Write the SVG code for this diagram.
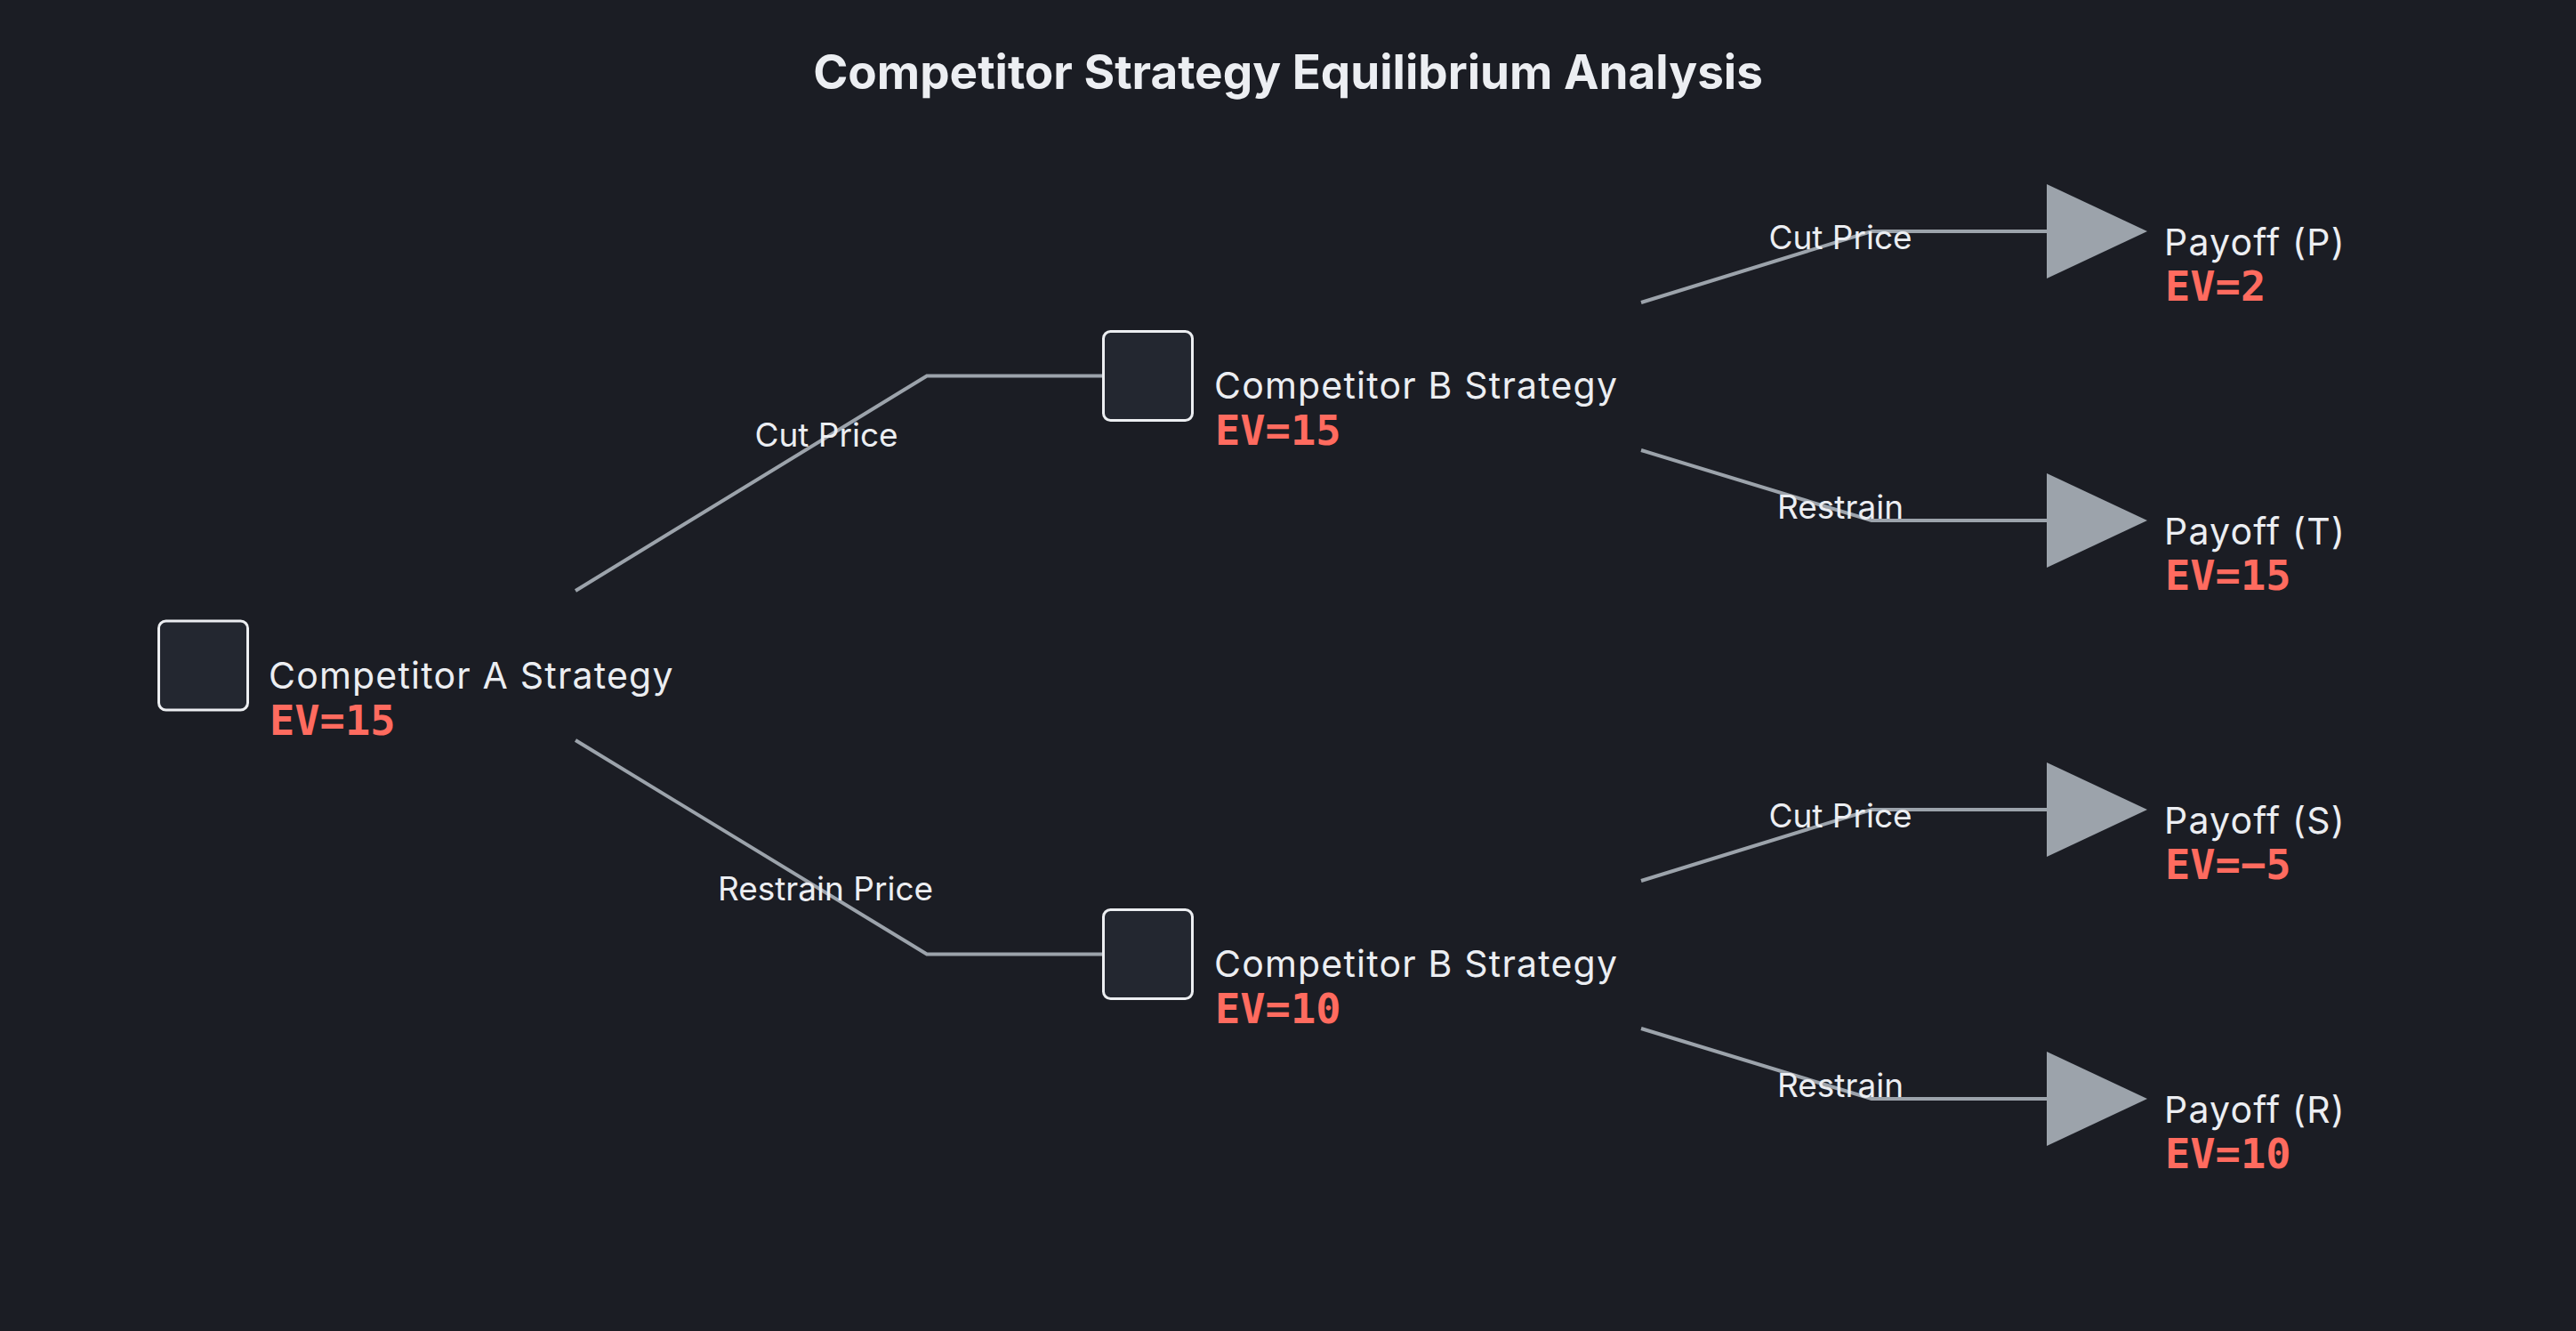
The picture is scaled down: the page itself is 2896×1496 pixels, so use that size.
<svg xmlns="http://www.w3.org/2000/svg" width="2896" height="1496" viewBox="0 0 2896 1496">
<defs>
<style>
.bg{fill:#1b1d24}
.title{font-family:Inter,"Liberation Sans",sans-serif;font-weight:700;font-size:53px;fill:#eceef2}
.box{fill:#232730;stroke:#eceef1;stroke-width:3}
.tri{fill:#9ca3ab}
.name{font-family:Inter,"Liberation Sans",sans-serif;font-size:41px;letter-spacing:1.2px;fill:#eceef2}
.ev{font-family:"DejaVu Sans Mono","Liberation Mono",monospace;font-weight:700;font-size:47px;fill:#ff6b5f}
.conn{fill:none;stroke:#9ca3ab;stroke-width:4;stroke-linejoin:miter}
.lbl{font-family:Inter,"Liberation Sans",sans-serif;font-size:37px;fill:#eceef2;text-anchor:middle}
</style>
</defs>
<rect class="bg" x="0" y="0" width="2896" height="1496"/>
<text class="title" x="1448" y="100" text-anchor="middle">Competitor Strategy Equilibrium Analysis</text>
<g id="connectors">
<path class="conn" d="M647,664 L1042,422.5 L1240,422.5"/>
<path class="conn" d="M647,832 L1042,1072.5 L1240,1072.5"/>
<path class="conn" d="M1845,340 L2104,260 L2301,260"/>
<path class="conn" d="M1845,506 L2104,585 L2301,585"/>
<path class="conn" d="M1845,990 L2104,910 L2301,910"/>
<path class="conn" d="M1845,1156 L2104,1235 L2301,1235"/>
<text class="lbl" x="929" y="502">Cut Price</text>
<text class="lbl" x="928" y="1012">Restrain Price</text>
<text class="lbl" x="2069" y="280">Cut Price</text>
<text class="lbl" x="2069" y="583">Restrain</text>
<text class="lbl" x="2069" y="930">Cut Price</text>
<text class="lbl" x="2069" y="1233">Restrain</text>
</g>
<g id="nodeA">
<rect class="box" x="178.5" y="698" width="100" height="100" rx="8"/>
<text class="name" x="302" y="774">Competitor A Strategy</text>
<text class="ev" x="303" y="826">EV=15</text>
</g>
<g id="nodeB1">
<rect class="box" x="1240.5" y="372.5" width="100" height="100" rx="8"/>
<text class="name" x="1365" y="448">Competitor B Strategy</text>
<text class="ev" x="1366" y="500">EV=15</text>
</g>
<g id="nodeB2">
<rect class="box" x="1240.5" y="1022.5" width="100" height="100" rx="8"/>
<text class="name" x="1365" y="1098">Competitor B Strategy</text>
<text class="ev" x="1366" y="1150">EV=10</text>
</g>
<g id="payoffP">
<polygon class="tri" points="2301,207 2414,260 2301,313"/>
<text class="name" x="2433" y="287">Payoff (P)</text>
<text class="ev" x="2434" y="338">EV=2</text>
</g>
<g id="payoffT">
<polygon class="tri" points="2301,532 2414,585 2301,638"/>
<text class="name" x="2433" y="612">Payoff (T)</text>
<text class="ev" x="2434" y="663">EV=15</text>
</g>
<g id="payoffS">
<polygon class="tri" points="2301,857 2414,910 2301,963"/>
<text class="name" x="2433" y="937">Payoff (S)</text>
<text class="ev" x="2434" y="988">EV=−5</text>
</g>
<g id="payoffR">
<polygon class="tri" points="2301,1182 2414,1235 2301,1288"/>
<text class="name" x="2433" y="1262">Payoff (R)</text>
<text class="ev" x="2434" y="1313">EV=10</text>
</g>
</svg>
